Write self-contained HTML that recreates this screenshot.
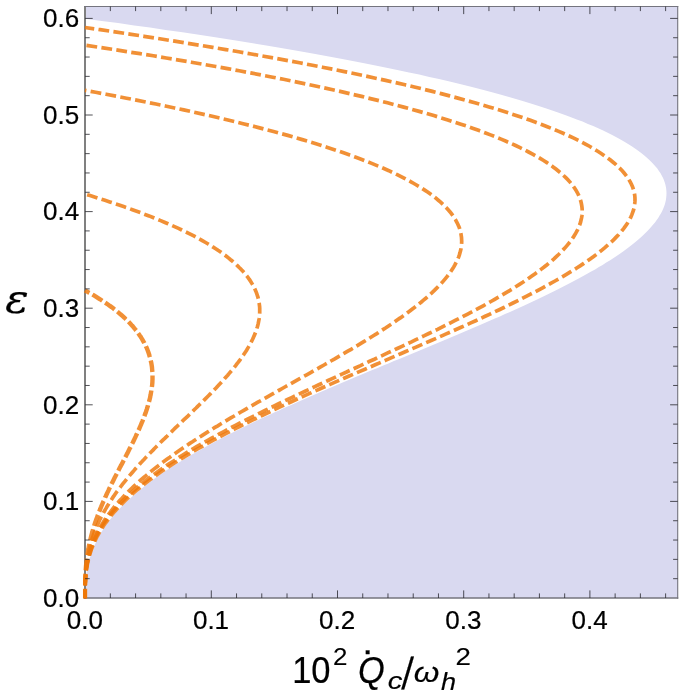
<!DOCTYPE html>
<html lang="en"><head><meta charset="utf-8"><title>Cooling power versus epsilon</title>
<style>
html,body{margin:0;padding:0;background:#fff}
svg{display:block}
text{font-family:"Liberation Sans",sans-serif;fill:#000}
.tl{font-size:26px;stroke:#000;stroke-width:0.22px}
.lb{stroke:#000;stroke-width:0.6px}
</style></head><body>
<svg width="685" height="698" viewBox="0 0 685 698">
<rect width="685" height="698" fill="#fff"/>
<defs><clipPath id="cp"><rect x="82.9" y="6.5" width="594.8" height="592.1"/></clipPath></defs>
<!-- shaded region -->
<rect x="85.1" y="6.5" width="592.6" height="591.5" fill="#d9d9f0"/>
<g clip-path="url(#cp)">
<path d="M85.0,598.4 L85.0,596.2 L85.0,593.9 L85.1,591.7 L85.1,589.4 L85.2,587.2 L85.4,585.0 L85.5,582.7 L85.7,580.5 L85.9,578.3 L86.2,576.0 L86.5,573.8 L86.8,571.5 L87.2,569.3 L87.6,567.1 L88.1,564.8 L88.6,562.6 L89.2,560.3 L89.8,558.1 L90.5,555.9 L91.3,553.6 L92.0,551.4 L92.9,549.2 L93.8,546.9 L94.8,544.7 L95.8,542.4 L96.9,540.2 L98.1,538.0 L99.3,535.7 L100.6,533.5 L102.0,531.2 L103.4,529.0 L104.9,526.8 L106.5,524.5 L108.1,522.3 L109.8,520.1 L111.6,517.8 L113.4,515.6 L115.4,513.3 L117.4,511.1 L119.4,508.9 L121.6,506.6 L123.8,504.4 L126.1,502.2 L128.5,499.9 L130.9,497.7 L133.4,495.4 L136.0,493.2 L138.7,491.0 L141.4,488.7 L144.2,486.5 L147.1,484.2 L150.0,482.0 L153.0,479.8 L156.1,477.5 L159.3,475.3 L162.6,473.1 L165.9,470.8 L169.2,468.6 L172.7,466.3 L176.2,464.1 L179.8,461.9 L183.5,459.6 L187.2,457.4 L191.0,455.1 L194.8,452.9 L198.7,450.7 L202.7,448.4 L206.7,446.2 L210.9,444.0 L215.0,441.7 L219.2,439.5 L223.5,437.2 L227.9,435.0 L232.2,432.8 L236.7,430.5 L241.2,428.3 L245.8,426.0 L250.4,423.8 L255.0,421.6 L259.7,419.3 L264.5,417.1 L269.3,414.9 L274.1,412.6 L279.0,410.4 L283.9,408.1 L288.9,405.9 L293.9,403.7 L298.9,401.4 L304.0,399.2 L309.1,396.9 L314.2,394.7 L319.4,392.5 L324.6,390.2 L329.8,388.0 L335.0,385.8 L340.3,383.5 L345.6,381.3 L350.9,379.0 L356.2,376.8 L361.6,374.6 L366.9,372.3 L372.3,370.1 L377.7,367.9 L383.1,365.6 L388.5,363.4 L393.9,361.1 L399.3,358.9 L404.7,356.7 L410.1,354.4 L415.5,352.2 L420.9,349.9 L426.3,347.7 L431.6,345.5 L437.0,343.2 L442.4,341.0 L447.7,338.8 L453.0,336.5 L458.4,334.3 L463.6,332.0 L468.9,329.8 L474.1,327.6 L479.4,325.3 L484.6,323.1 L489.7,320.8 L494.8,318.6 L499.9,316.4 L505.0,314.1 L510.0,311.9 L514.9,309.7 L519.9,307.4 L524.8,305.2 L529.6,302.9 L534.4,300.7 L539.1,298.5 L543.8,296.2 L548.4,294.0 L553.0,291.7 L557.5,289.5 L561.9,287.3 L566.3,285.0 L570.6,282.8 L574.9,280.6 L579.1,278.3 L583.2,276.1 L587.2,273.8 L591.2,271.6 L595.1,269.4 L598.9,267.1 L602.6,264.9 L606.2,262.6 L609.8,260.4 L613.2,258.2 L616.6,255.9 L619.9,253.7 L623.1,251.5 L626.1,249.2 L629.1,247.0 L632.0,244.7 L634.8,242.5 L637.5,240.3 L640.1,238.0 L642.6,235.8 L644.9,233.5 L647.2,231.3 L649.3,229.1 L651.3,226.8 L653.2,224.6 L655.0,222.4 L656.7,220.1 L658.2,217.9 L659.6,215.6 L660.9,213.4 L662.1,211.2 L663.1,208.9 L664.0,206.7 L664.8,204.5 L665.4,202.2 L665.9,200.0 L666.2,197.7 L666.4,195.5 L666.5,193.3 L666.4,191.0 L666.2,188.8 L665.8,186.5 L665.3,184.3 L664.6,182.1 L663.8,179.8 L662.8,177.6 L661.7,175.4 L660.4,173.1 L658.9,170.9 L657.3,168.6 L655.5,166.4 L653.5,164.2 L651.4,161.9 L649.1,159.7 L646.6,157.4 L644.0,155.2 L641.2,153.0 L638.2,150.7 L635.0,148.5 L631.7,146.3 L628.1,144.0 L624.4,141.8 L620.5,139.5 L616.4,137.3 L612.2,135.1 L607.7,132.8 L603.1,130.6 L598.2,128.3 L593.2,126.1 L587.9,123.9 L582.5,121.6 L576.8,119.4 L571.0,117.2 L565.0,114.9 L558.7,112.7 L552.2,110.4 L545.6,108.2 L538.7,106.0 L531.6,103.7 L524.3,101.5 L516.8,99.2 L509.0,97.0 L501.1,94.8 L492.9,92.5 L484.5,90.3 L475.9,88.1 L467.0,85.8 L457.9,83.6 L448.6,81.3 L439.0,79.1 L429.3,76.9 L419.2,74.6 L409.0,72.4 L398.5,70.2 L387.7,67.9 L376.7,65.7 L365.5,63.4 L354.0,61.2 L342.2,59.0 L330.2,56.7 L318.0,54.5 L305.5,52.2 L292.7,50.0 L279.6,47.8 L266.3,45.5 L252.8,43.3 L238.9,41.1 L224.8,38.8 L210.4,36.6 L195.7,34.3 L180.8,32.1 L165.5,29.9 L150.0,27.6 L134.2,25.4 L118.1,23.1 L101.7,20.9 L85.0,18.7 Z" fill="#fff"/></g>
<g stroke="#74747e" fill="none"><path d="M85,5.9V598.65" stroke-width="2" stroke="#808080"/><path d="M84.19999999999999,6.5H678.25" stroke-width="1.2"/><path d="M677.7,5.9V598.65" stroke-width="1.1"/><path d="M84.19999999999999,598.0H678.25" stroke-width="1.3"/></g>
<g clip-path="url(#cp)">
<!-- dashed curves -->
<g fill="none" stroke="#ee780a" stroke-width="3.7" stroke-opacity="0.82" stroke-dasharray="10.8 4.3" stroke-dashoffset="2">
<path d="M85.0,598.4 L85.0,596.2 L85.0,594.0 L85.0,591.8 L85.0,589.6 L85.1,587.4 L85.2,585.2 L85.2,583.0 L85.4,580.8 L85.5,578.6 L85.7,576.4 L85.9,574.2 L86.1,572.0 L86.4,569.7 L86.8,567.5 L87.2,565.3 L87.6,563.1 L88.1,560.9 L88.6,558.7 L89.2,556.5 L89.8,554.3 L90.5,552.1 L91.2,549.9 L92.1,547.7 L92.9,545.5 L93.9,543.3 L94.9,541.1 L95.9,538.9 L97.0,536.7 L98.2,534.5 L99.5,532.3 L100.8,530.1 L102.2,527.9 L103.6,525.7 L105.2,523.5 L106.8,521.3 L108.4,519.1 L110.2,516.8 L112.0,514.6 L113.9,512.4 L115.8,510.2 L117.8,508.0 L119.9,505.8 L122.1,503.6 L124.3,501.4 L126.6,499.2 L129.0,497.0 L131.4,494.8 L133.9,492.6 L136.5,490.4 L139.2,488.2 L141.9,486.0 L144.7,483.8 L147.6,481.6 L150.5,479.4 L153.5,477.2 L156.6,475.0 L159.7,472.8 L162.9,470.6 L166.2,468.4 L169.5,466.2 L172.9,463.9 L176.4,461.7 L179.9,459.5 L183.5,457.3 L187.1,455.1 L190.8,452.9 L194.6,450.7 L198.4,448.5 L202.3,446.3 L206.2,444.1 L210.2,441.9 L214.3,439.7 L218.4,437.5 L222.5,435.3 L226.7,433.1 L231.0,430.9 L235.3,428.7 L239.6,426.5 L244.0,424.3 L248.5,422.1 L252.9,419.9 L257.5,417.7 L262.0,415.5 L266.7,413.3 L271.3,411.0 L276.0,408.8 L280.7,406.6 L285.5,404.4 L290.2,402.2 L295.1,400.0 L299.9,397.8 L304.8,395.6 L309.7,393.4 L314.6,391.2 L319.6,389.0 L324.6,386.8 L329.5,384.6 L334.6,382.4 L339.6,380.2 L344.6,378.0 L349.7,375.8 L354.8,373.6 L359.9,371.4 L365.0,369.2 L370.1,367.0 L375.2,364.8 L380.3,362.6 L385.4,360.4 L390.5,358.1 L395.6,355.9 L400.7,353.7 L405.8,351.5 L410.9,349.3 L416.0,347.1 L421.1,344.9 L426.1,342.7 L431.2,340.5 L436.2,338.3 L441.2,336.1 L446.2,333.9 L451.2,331.7 L456.1,329.5 L461.1,327.3 L466.0,325.1 L470.8,322.9 L475.7,320.7 L480.5,318.5 L485.2,316.3 L490.0,314.1 L494.6,311.9 L499.3,309.7 L503.9,307.5 L508.5,305.2 L513.0,303.0 L517.4,300.8 L521.8,298.6 L526.2,296.4 L530.5,294.2 L534.7,292.0 L538.9,289.8 L543.1,287.6 L547.1,285.4 L551.1,283.2 L555.0,281.0 L558.9,278.8 L562.7,276.6 L566.4,274.4 L570.0,272.2 L573.6,270.0 L577.1,267.8 L580.5,265.6 L583.8,263.4 L587.0,261.2 L590.2,259.0 L593.3,256.8 L596.2,254.6 L599.1,252.3 L601.9,250.1 L604.6,247.9 L607.1,245.7 L609.6,243.5 L612.0,241.3 L614.3,239.1 L616.4,236.9 L618.5,234.7 L620.4,232.5 L622.3,230.3 L624.0,228.1 L625.6,225.9 L627.1,223.7 L628.4,221.5 L629.7,219.3 L630.8,217.1 L631.8,214.9 L632.6,212.7 L633.4,210.5 L634.0,208.3 L634.4,206.1 L634.7,203.9 L634.9,201.7 L635.0,199.4 L634.9,197.2 L634.7,195.0 L634.3,192.8 L633.8,190.6 L633.1,188.4 L632.3,186.2 L631.3,184.0 L630.2,181.8 L628.9,179.6 L627.4,177.4 L625.8,175.2 L624.1,173.0 L622.2,170.8 L620.1,168.6 L617.8,166.4 L615.4,164.2 L612.8,162.0 L610.1,159.8 L607.1,157.6 L604.0,155.4 L600.8,153.2 L597.3,151.0 L593.7,148.8 L589.9,146.5 L585.9,144.3 L581.7,142.1 L577.4,139.9 L572.8,137.7 L568.1,135.5 L563.2,133.3 L558.1,131.1 L552.8,128.9 L547.3,126.7 L541.6,124.5 L535.7,122.3 L529.7,120.1 L523.4,117.9 L516.9,115.7 L510.3,113.5 L503.4,111.3 L496.3,109.1 L489.1,106.9 L481.6,104.7 L473.9,102.5 L466.0,100.3 L457.9,98.1 L449.6,95.9 L441.1,93.6 L432.4,91.4 L423.5,89.2 L414.3,87.0 L405.0,84.8 L395.4,82.6 L385.6,80.4 L375.6,78.2 L365.4,76.0 L355.0,73.8 L344.4,71.6 L333.5,69.4 L322.4,67.2 L311.1,65.0 L299.6,62.8 L287.9,60.6 L275.9,58.4 L263.7,56.2 L251.3,54.0 L238.7,51.8 L225.8,49.6 L212.7,47.4 L199.5,45.2 L185.9,43.0 L172.2,40.8 L158.2,38.5 L144.0,36.3 L129.6,34.1 L115.0,31.9 L100.1,29.7 L85.0,27.5"/>
<path d="M85.0,598.4 L85.0,596.3 L85.0,594.1 L85.0,592.0 L85.0,589.9 L85.1,587.7 L85.1,585.6 L85.2,583.4 L85.3,581.3 L85.4,579.2 L85.5,577.0 L85.7,574.9 L85.9,572.8 L86.2,570.6 L86.4,568.5 L86.7,566.4 L87.1,564.2 L87.5,562.1 L87.9,560.0 L88.4,557.8 L89.0,555.7 L89.6,553.5 L90.2,551.4 L90.9,549.3 L91.6,547.1 L92.4,545.0 L93.3,542.9 L94.2,540.7 L95.1,538.6 L96.2,536.5 L97.3,534.3 L98.4,532.2 L99.6,530.0 L100.9,527.9 L102.2,525.8 L103.6,523.6 L105.1,521.5 L106.6,519.4 L108.2,517.2 L109.9,515.1 L111.6,513.0 L113.4,510.8 L115.2,508.7 L117.2,506.5 L119.1,504.4 L121.2,502.3 L123.3,500.1 L125.5,498.0 L127.7,495.9 L130.1,493.7 L132.4,491.6 L134.9,489.5 L137.4,487.3 L140.0,485.2 L142.6,483.1 L145.3,480.9 L148.1,478.8 L150.9,476.6 L153.8,474.5 L156.7,472.4 L159.7,470.2 L162.8,468.1 L165.9,466.0 L169.1,463.8 L172.4,461.7 L175.7,459.6 L179.0,457.4 L182.4,455.3 L185.9,453.1 L189.4,451.0 L193.0,448.9 L196.6,446.7 L200.3,444.6 L204.0,442.5 L207.8,440.3 L211.6,438.2 L215.5,436.1 L219.4,433.9 L223.4,431.8 L227.4,429.6 L231.4,427.5 L235.5,425.4 L239.6,423.2 L243.7,421.1 L247.9,419.0 L252.2,416.8 L256.4,414.7 L260.7,412.6 L265.0,410.4 L269.4,408.3 L273.8,406.2 L278.2,404.0 L282.6,401.9 L287.1,399.7 L291.6,397.6 L296.1,395.5 L300.6,393.3 L305.1,391.2 L309.7,389.1 L314.3,386.9 L318.8,384.8 L323.4,382.7 L328.1,380.5 L332.7,378.4 L337.3,376.2 L341.9,374.1 L346.6,372.0 L351.2,369.8 L355.8,367.7 L360.5,365.6 L365.1,363.4 L369.7,361.3 L374.4,359.2 L379.0,357.0 L383.6,354.9 L388.2,352.7 L392.8,350.6 L397.3,348.5 L401.9,346.3 L406.4,344.2 L411.0,342.1 L415.4,339.9 L419.9,337.8 L424.4,335.7 L428.8,333.5 L433.2,331.4 L437.6,329.3 L441.9,327.1 L446.2,325.0 L450.5,322.8 L454.7,320.7 L458.9,318.6 L463.1,316.4 L467.2,314.3 L471.3,312.2 L475.3,310.0 L479.3,307.9 L483.2,305.8 L487.1,303.6 L490.9,301.5 L494.7,299.3 L498.4,297.2 L502.1,295.1 L505.7,292.9 L509.2,290.8 L512.7,288.7 L516.1,286.5 L519.5,284.4 L522.8,282.3 L526.0,280.1 L529.1,278.0 L532.2,275.8 L535.2,273.7 L538.1,271.6 L541.0,269.4 L543.8,267.3 L546.4,265.2 L549.0,263.0 L551.6,260.9 L554.0,258.8 L556.3,256.6 L558.6,254.5 L560.8,252.4 L562.8,250.2 L564.8,248.1 L566.7,245.9 L568.4,243.8 L570.1,241.7 L571.7,239.5 L573.2,237.4 L574.5,235.3 L575.8,233.1 L577.0,231.0 L578.0,228.9 L578.9,226.7 L579.8,224.6 L580.5,222.4 L581.0,220.3 L581.5,218.2 L581.9,216.0 L582.1,213.9 L582.2,211.8 L582.2,209.6 L582.0,207.5 L581.7,205.4 L581.3,203.2 L580.8,201.1 L580.1,198.9 L579.3,196.8 L578.4,194.7 L577.3,192.5 L576.1,190.4 L574.7,188.3 L573.2,186.1 L571.6,184.0 L569.8,181.9 L567.9,179.7 L565.8,177.6 L563.5,175.5 L561.2,173.3 L558.6,171.2 L555.9,169.0 L553.1,166.9 L550.1,164.8 L546.9,162.6 L543.6,160.5 L540.1,158.4 L536.4,156.2 L532.6,154.1 L528.6,152.0 L524.4,149.8 L520.1,147.7 L515.6,145.5 L510.9,143.4 L506.1,141.3 L501.1,139.1 L495.9,137.0 L490.5,134.9 L484.9,132.7 L479.2,130.6 L473.3,128.5 L467.2,126.3 L460.9,124.2 L454.4,122.1 L447.8,119.9 L440.9,117.8 L433.8,115.6 L426.6,113.5 L419.2,111.4 L411.5,109.2 L403.7,107.1 L395.7,105.0 L387.5,102.8 L379.0,100.7 L370.4,98.6 L361.6,96.4 L352.5,94.3 L343.3,92.1 L333.8,90.0 L324.2,87.9 L314.3,85.7 L304.2,83.6 L293.9,81.5 L283.4,79.3 L272.7,77.2 L261.7,75.1 L250.6,72.9 L239.2,70.8 L227.6,68.6 L215.8,66.5 L203.7,64.4 L191.4,62.2 L178.9,60.1 L166.2,58.0 L153.3,55.8 L140.1,53.7 L126.7,51.6 L113.0,49.4 L99.1,47.3 L85.0,45.2"/>
<path d="M85.0,598.4 L85.0,596.4 L85.0,594.5 L85.0,592.5 L85.0,590.6 L85.1,588.6 L85.1,586.6 L85.1,584.7 L85.2,582.7 L85.3,580.7 L85.4,578.8 L85.5,576.8 L85.7,574.9 L85.9,572.9 L86.1,570.9 L86.3,569.0 L86.6,567.0 L86.9,565.1 L87.2,563.1 L87.6,561.1 L88.0,559.2 L88.4,557.2 L88.9,555.2 L89.4,553.3 L90.0,551.3 L90.6,549.4 L91.2,547.4 L91.9,545.4 L92.6,543.5 L93.4,541.5 L94.2,539.5 L95.0,537.6 L95.9,535.6 L96.8,533.7 L97.8,531.7 L98.9,529.7 L99.9,527.8 L101.1,525.8 L102.2,523.9 L103.4,521.9 L104.7,519.9 L106.0,518.0 L107.4,516.0 L108.8,514.0 L110.3,512.1 L111.8,510.1 L113.3,508.2 L114.9,506.2 L116.6,504.2 L118.3,502.3 L120.0,500.3 L121.8,498.4 L123.6,496.4 L125.5,494.4 L127.5,492.5 L129.4,490.5 L131.5,488.5 L133.5,486.6 L135.7,484.6 L137.8,482.7 L140.0,480.7 L142.3,478.7 L144.6,476.8 L146.9,474.8 L149.3,472.9 L151.7,470.9 L154.2,468.9 L156.7,467.0 L159.3,465.0 L161.9,463.0 L164.5,461.1 L167.2,459.1 L169.9,457.2 L172.6,455.2 L175.4,453.2 L178.2,451.3 L181.1,449.3 L184.0,447.3 L186.9,445.4 L189.8,443.4 L192.8,441.5 L195.8,439.5 L198.9,437.5 L202.0,435.6 L205.1,433.6 L208.2,431.7 L211.4,429.7 L214.5,427.7 L217.8,425.8 L221.0,423.8 L224.3,421.8 L227.5,419.9 L230.8,417.9 L234.2,416.0 L237.5,414.0 L240.9,412.0 L244.2,410.1 L247.6,408.1 L251.0,406.2 L254.5,404.2 L257.9,402.2 L261.4,400.3 L264.8,398.3 L268.3,396.3 L271.7,394.4 L275.2,392.4 L278.7,390.5 L282.2,388.5 L285.7,386.5 L289.2,384.6 L292.7,382.6 L296.2,380.6 L299.7,378.7 L303.2,376.7 L306.7,374.8 L310.2,372.8 L313.6,370.8 L317.1,368.9 L320.6,366.9 L324.0,365.0 L327.5,363.0 L330.9,361.0 L334.3,359.1 L337.7,357.1 L341.1,355.1 L344.4,353.2 L347.8,351.2 L351.1,349.3 L354.4,347.3 L357.7,345.3 L360.9,343.4 L364.2,341.4 L367.4,339.5 L370.5,337.5 L373.7,335.5 L376.8,333.6 L379.9,331.6 L382.9,329.6 L385.9,327.7 L388.9,325.7 L391.8,323.8 L394.7,321.8 L397.5,319.8 L400.3,317.9 L403.1,315.9 L405.8,314.0 L408.5,312.0 L411.1,310.0 L413.7,308.1 L416.2,306.1 L418.7,304.1 L421.1,302.2 L423.5,300.2 L425.8,298.3 L428.0,296.3 L430.2,294.3 L432.3,292.4 L434.4,290.4 L436.4,288.4 L438.3,286.5 L440.2,284.5 L442.0,282.6 L443.7,280.6 L445.4,278.6 L447.0,276.7 L448.5,274.7 L449.9,272.8 L451.3,270.8 L452.6,268.8 L453.8,266.9 L454.9,264.9 L455.9,262.9 L456.9,261.0 L457.8,259.0 L458.6,257.1 L459.3,255.1 L459.9,253.1 L460.4,251.2 L460.9,249.2 L461.2,247.3 L461.5,245.3 L461.6,243.3 L461.7,241.4 L461.6,239.4 L461.5,237.4 L461.2,235.5 L460.9,233.5 L460.5,231.6 L459.9,229.6 L459.3,227.6 L458.5,225.7 L457.6,223.7 L456.6,221.8 L455.6,219.8 L454.3,217.8 L453.0,215.9 L451.6,213.9 L450.1,211.9 L448.4,210.0 L446.6,208.0 L444.7,206.1 L442.7,204.1 L440.6,202.1 L438.3,200.2 L435.9,198.2 L433.4,196.2 L430.8,194.3 L428.0,192.3 L425.1,190.4 L422.1,188.4 L418.9,186.4 L415.6,184.5 L412.2,182.5 L408.7,180.6 L405.0,178.6 L401.1,176.6 L397.2,174.7 L393.1,172.7 L388.9,170.7 L384.5,168.8 L380.0,166.8 L375.3,164.9 L370.5,162.9 L365.5,160.9 L360.5,159.0 L355.2,157.0 L349.8,155.1 L344.3,153.1 L338.6,151.1 L332.8,149.2 L326.8,147.2 L320.7,145.2 L314.4,143.3 L308.0,141.3 L301.4,139.4 L294.7,137.4 L287.8,135.4 L280.7,133.5 L273.5,131.5 L266.1,129.6 L258.6,127.6 L250.9,125.6 L243.1,123.7 L235.1,121.7 L226.9,119.7 L218.6,117.8 L210.1,115.8 L201.5,113.9 L192.7,111.9 L183.7,109.9 L174.6,108.0 L165.3,106.0 L155.9,104.0 L146.2,102.1 L136.4,100.1 L126.5,98.2 L116.4,96.2 L106.1,94.2 L95.6,92.3 L85.0,90.3"/>
<path d="M85.0,598.4 L85.0,596.8 L85.0,595.3 L85.0,593.7 L85.0,592.2 L85.0,590.6 L85.0,589.0 L85.1,587.5 L85.1,585.9 L85.1,584.4 L85.2,582.8 L85.2,581.2 L85.3,579.7 L85.3,578.1 L85.4,576.5 L85.5,575.0 L85.6,573.4 L85.7,571.9 L85.9,570.3 L86.0,568.7 L86.2,567.2 L86.4,565.6 L86.6,564.1 L86.8,562.5 L87.0,560.9 L87.2,559.4 L87.5,557.8 L87.8,556.3 L88.1,554.7 L88.4,553.1 L88.7,551.6 L89.1,550.0 L89.4,548.4 L89.8,546.9 L90.2,545.3 L90.6,543.8 L91.1,542.2 L91.6,540.6 L92.0,539.1 L92.6,537.5 L93.1,536.0 L93.6,534.4 L94.2,532.8 L94.8,531.3 L95.4,529.7 L96.1,528.2 L96.7,526.6 L97.4,525.0 L98.1,523.5 L98.8,521.9 L99.6,520.3 L100.3,518.8 L101.1,517.2 L101.9,515.7 L102.7,514.1 L103.6,512.5 L104.5,511.0 L105.4,509.4 L106.3,507.9 L107.2,506.3 L108.2,504.7 L109.1,503.2 L110.1,501.6 L111.2,500.1 L112.2,498.5 L113.2,496.9 L114.3,495.4 L115.4,493.8 L116.5,492.2 L117.7,490.7 L118.8,489.1 L120.0,487.6 L121.2,486.0 L122.4,484.4 L123.6,482.9 L124.9,481.3 L126.1,479.8 L127.4,478.2 L128.7,476.6 L130.0,475.1 L131.4,473.5 L132.7,472.0 L134.1,470.4 L135.4,468.8 L136.8,467.3 L138.2,465.7 L139.6,464.1 L141.1,462.6 L142.5,461.0 L144.0,459.5 L145.4,457.9 L146.9,456.3 L148.4,454.8 L149.9,453.2 L151.4,451.7 L153.0,450.1 L154.5,448.5 L156.0,447.0 L157.6,445.4 L159.2,443.9 L160.7,442.3 L162.3,440.7 L163.9,439.2 L165.5,437.6 L167.1,436.1 L168.7,434.5 L170.3,432.9 L171.9,431.4 L173.5,429.8 L175.1,428.2 L176.7,426.7 L178.3,425.1 L180.0,423.6 L181.6,422.0 L183.2,420.4 L184.8,418.9 L186.5,417.3 L188.1,415.8 L189.7,414.2 L191.3,412.6 L192.9,411.1 L194.5,409.5 L196.1,408.0 L197.7,406.4 L199.3,404.8 L200.9,403.3 L202.5,401.7 L204.1,400.1 L205.6,398.6 L207.2,397.0 L208.7,395.5 L210.3,393.9 L211.8,392.3 L213.3,390.8 L214.8,389.2 L216.3,387.7 L217.8,386.1 L219.2,384.5 L220.7,383.0 L222.1,381.4 L223.5,379.9 L224.9,378.3 L226.3,376.7 L227.7,375.2 L229.0,373.6 L230.4,372.0 L231.7,370.5 L233.0,368.9 L234.2,367.4 L235.5,365.8 L236.7,364.2 L237.9,362.7 L239.1,361.1 L240.2,359.6 L241.3,358.0 L242.4,356.4 L243.5,354.9 L244.6,353.3 L245.6,351.8 L246.6,350.2 L247.5,348.6 L248.4,347.1 L249.3,345.5 L250.2,343.9 L251.0,342.4 L251.8,340.8 L252.6,339.3 L253.3,337.7 L254.0,336.1 L254.7,334.6 L255.3,333.0 L255.9,331.5 L256.4,329.9 L256.9,328.3 L257.4,326.8 L257.8,325.2 L258.2,323.7 L258.5,322.1 L258.8,320.5 L259.1,319.0 L259.3,317.4 L259.5,315.8 L259.6,314.3 L259.7,312.7 L259.7,311.2 L259.7,309.6 L259.7,308.0 L259.6,306.5 L259.4,304.9 L259.2,303.4 L258.9,301.8 L258.6,300.2 L258.3,298.7 L257.9,297.1 L257.4,295.6 L256.9,294.0 L256.3,292.4 L255.7,290.9 L255.0,289.3 L254.3,287.8 L253.5,286.2 L252.6,284.6 L251.7,283.1 L250.7,281.5 L249.7,279.9 L248.6,278.4 L247.5,276.8 L246.2,275.3 L245.0,273.7 L243.6,272.1 L242.2,270.6 L240.8,269.0 L239.2,267.5 L237.6,265.9 L236.0,264.3 L234.3,262.8 L232.5,261.2 L230.6,259.7 L228.7,258.1 L226.7,256.5 L224.6,255.0 L222.5,253.4 L220.3,251.8 L218.0,250.3 L215.7,248.7 L213.2,247.2 L210.8,245.6 L208.2,244.0 L205.6,242.5 L202.8,240.9 L200.1,239.4 L197.2,237.8 L194.3,236.2 L191.3,234.7 L188.2,233.1 L185.0,231.6 L181.8,230.0 L178.5,228.4 L175.1,226.9 L171.6,225.3 L168.0,223.7 L164.4,222.2 L160.7,220.6 L156.9,219.1 L153.0,217.5 L149.1,215.9 L145.0,214.4 L140.9,212.8 L136.7,211.3 L132.4,209.7 L128.1,208.1 L123.6,206.6 L119.1,205.0 L114.5,203.5 L109.8,201.9 L105.0,200.3 L100.1,198.8 L95.2,197.2 L90.1,195.6 L85.0,194.1"/>
<path d="M85.0,598.4 L85.0,597.2 L85.0,596.0 L85.0,594.8 L85.0,593.6 L85.0,592.5 L85.0,591.3 L85.0,590.1 L85.0,588.9 L85.0,587.7 L85.1,586.5 L85.1,585.3 L85.1,584.1 L85.1,582.9 L85.2,581.8 L85.2,580.6 L85.2,579.4 L85.3,578.2 L85.3,577.0 L85.4,575.8 L85.4,574.6 L85.5,573.4 L85.6,572.2 L85.7,571.1 L85.7,569.9 L85.8,568.7 L85.9,567.5 L86.0,566.3 L86.1,565.1 L86.3,563.9 L86.4,562.7 L86.5,561.5 L86.7,560.4 L86.8,559.2 L87.0,558.0 L87.1,556.8 L87.3,555.6 L87.5,554.4 L87.6,553.2 L87.8,552.0 L88.0,550.8 L88.2,549.7 L88.5,548.5 L88.7,547.3 L88.9,546.1 L89.2,544.9 L89.4,543.7 L89.7,542.5 L89.9,541.3 L90.2,540.1 L90.5,539.0 L90.8,537.8 L91.1,536.6 L91.4,535.4 L91.7,534.2 L92.0,533.0 L92.4,531.8 L92.7,530.6 L93.1,529.4 L93.4,528.3 L93.8,527.1 L94.1,525.9 L94.5,524.7 L94.9,523.5 L95.3,522.3 L95.7,521.1 L96.1,519.9 L96.5,518.7 L97.0,517.6 L97.4,516.4 L97.8,515.2 L98.3,514.0 L98.7,512.8 L99.2,511.6 L99.7,510.4 L100.2,509.2 L100.6,508.0 L101.1,506.9 L101.6,505.7 L102.1,504.5 L102.6,503.3 L103.1,502.1 L103.7,500.9 L104.2,499.7 L104.7,498.5 L105.2,497.3 L105.8,496.2 L106.3,495.0 L106.9,493.8 L107.4,492.6 L108.0,491.4 L108.6,490.2 L109.1,489.0 L109.7,487.8 L110.3,486.6 L110.9,485.5 L111.4,484.3 L112.0,483.1 L112.6,481.9 L113.2,480.7 L113.8,479.5 L114.4,478.3 L115.0,477.1 L115.6,475.9 L116.2,474.8 L116.8,473.6 L117.5,472.4 L118.1,471.2 L118.7,470.0 L119.3,468.8 L119.9,467.6 L120.5,466.4 L121.1,465.2 L121.8,464.1 L122.4,462.9 L123.0,461.7 L123.6,460.5 L124.2,459.3 L124.8,458.1 L125.5,456.9 L126.1,455.7 L126.7,454.5 L127.3,453.4 L127.9,452.2 L128.5,451.0 L129.1,449.8 L129.7,448.6 L130.3,447.4 L130.9,446.2 L131.5,445.0 L132.1,443.8 L132.7,442.7 L133.3,441.5 L133.9,440.3 L134.4,439.1 L135.0,437.9 L135.6,436.7 L136.1,435.5 L136.7,434.3 L137.2,433.1 L137.8,432.0 L138.3,430.8 L138.9,429.6 L139.4,428.4 L139.9,427.2 L140.4,426.0 L140.9,424.8 L141.4,423.6 L141.9,422.4 L142.4,421.3 L142.9,420.1 L143.3,418.9 L143.8,417.7 L144.3,416.5 L144.7,415.3 L145.1,414.1 L145.6,412.9 L146.0,411.7 L146.4,410.6 L146.8,409.4 L147.1,408.2 L147.5,407.0 L147.9,405.8 L148.2,404.6 L148.6,403.4 L148.9,402.2 L149.2,401.0 L149.5,399.9 L149.8,398.7 L150.1,397.5 L150.3,396.3 L150.6,395.1 L150.8,393.9 L151.0,392.7 L151.2,391.5 L151.4,390.3 L151.6,389.2 L151.8,388.0 L151.9,386.8 L152.1,385.6 L152.2,384.4 L152.3,383.2 L152.4,382.0 L152.4,380.8 L152.5,379.6 L152.5,378.5 L152.5,377.3 L152.5,376.1 L152.5,374.9 L152.5,373.7 L152.4,372.5 L152.3,371.3 L152.2,370.1 L152.1,368.9 L152.0,367.8 L151.9,366.6 L151.7,365.4 L151.5,364.2 L151.3,363.0 L151.0,361.8 L150.8,360.6 L150.5,359.4 L150.2,358.2 L149.9,357.1 L149.5,355.9 L149.2,354.7 L148.8,353.5 L148.4,352.3 L147.9,351.1 L147.5,349.9 L147.0,348.7 L146.5,347.5 L145.9,346.4 L145.4,345.2 L144.8,344.0 L144.2,342.8 L143.5,341.6 L142.8,340.4 L142.1,339.2 L141.4,338.0 L140.7,336.8 L139.9,335.7 L139.1,334.5 L138.2,333.3 L137.4,332.1 L136.5,330.9 L135.5,329.7 L134.6,328.5 L133.6,327.3 L132.6,326.1 L131.5,325.0 L130.4,323.8 L129.3,322.6 L128.2,321.4 L127.0,320.2 L125.7,319.0 L124.5,317.8 L123.2,316.6 L121.9,315.4 L120.5,314.3 L119.1,313.1 L117.7,311.9 L116.2,310.7 L114.7,309.5 L113.2,308.3 L111.6,307.1 L109.9,305.9 L108.3,304.7 L106.6,303.6 L104.8,302.4 L103.0,301.2 L101.2,300.0 L99.3,298.8 L97.4,297.6 L95.5,296.4 L93.5,295.2 L91.4,294.0 L89.3,292.9 L87.2,291.7 L85.0,290.5" stroke-width="4.4" stroke-dasharray="11.6 3.5"/>
</g></g>
<path d="M110.34,598.0v-4.6M110.34,6.5v4.6M135.58,598.0v-4.6M135.58,6.5v4.6M160.82,598.0v-4.6M160.82,6.5v4.6M186.06,598.0v-4.6M186.06,6.5v4.6M211.30,598.0v-7.6M211.30,6.5v7.6M236.54,598.0v-4.6M236.54,6.5v4.6M261.78,598.0v-4.6M261.78,6.5v4.6M287.02,598.0v-4.6M287.02,6.5v4.6M312.26,598.0v-4.6M312.26,6.5v4.6M337.50,598.0v-7.6M337.50,6.5v7.6M362.74,598.0v-4.6M362.74,6.5v4.6M387.98,598.0v-4.6M387.98,6.5v4.6M413.22,598.0v-4.6M413.22,6.5v4.6M438.46,598.0v-4.6M438.46,6.5v4.6M463.70,598.0v-7.6M463.70,6.5v7.6M488.94,598.0v-4.6M488.94,6.5v4.6M514.18,598.0v-4.6M514.18,6.5v4.6M539.42,598.0v-4.6M539.42,6.5v4.6M564.66,598.0v-4.6M564.66,6.5v4.6M589.90,598.0v-7.6M589.90,6.5v7.6M615.14,598.0v-4.6M615.14,6.5v4.6M640.38,598.0v-4.6M640.38,6.5v4.6M665.62,598.0v-4.6M665.62,6.5v4.6M85.1,578.68h4.6M677.7,578.68h-4.6M85.1,559.36h4.6M677.7,559.36h-4.6M85.1,540.04h4.6M677.7,540.04h-4.6M85.1,520.72h4.6M677.7,520.72h-4.6M85.1,501.40h7.6M677.7,501.40h-7.6M85.1,482.08h4.6M677.7,482.08h-4.6M85.1,462.76h4.6M677.7,462.76h-4.6M85.1,443.44h4.6M677.7,443.44h-4.6M85.1,424.12h4.6M677.7,424.12h-4.6M85.1,404.80h7.6M677.7,404.80h-7.6M85.1,385.48h4.6M677.7,385.48h-4.6M85.1,366.16h4.6M677.7,366.16h-4.6M85.1,346.84h4.6M677.7,346.84h-4.6M85.1,327.52h4.6M677.7,327.52h-4.6M85.1,308.20h7.6M677.7,308.20h-7.6M85.1,288.88h4.6M677.7,288.88h-4.6M85.1,269.56h4.6M677.7,269.56h-4.6M85.1,250.24h4.6M677.7,250.24h-4.6M85.1,230.92h4.6M677.7,230.92h-4.6M85.1,211.60h7.6M677.7,211.60h-7.6M85.1,192.28h4.6M677.7,192.28h-4.6M85.1,172.96h4.6M677.7,172.96h-4.6M85.1,153.64h4.6M677.7,153.64h-4.6M85.1,134.32h4.6M677.7,134.32h-4.6M85.1,115.00h7.6M677.7,115.00h-7.6M85.1,95.68h4.6M677.7,95.68h-4.6M85.1,76.36h4.6M677.7,76.36h-4.6M85.1,57.04h4.6M677.7,57.04h-4.6M85.1,37.72h4.6M677.7,37.72h-4.6M85.1,18.40h7.6M677.7,18.40h-7.6" stroke="#26262c" stroke-width="0.8" fill="none"/>
<text class="tl" x="84.8" y="629.1" text-anchor="middle">0.0</text>
<text class="tl" x="211.0" y="629.1" text-anchor="middle">0.1</text>
<text class="tl" x="337.2" y="629.1" text-anchor="middle">0.2</text>
<text class="tl" x="463.4" y="629.1" text-anchor="middle">0.3</text>
<text class="tl" x="589.6" y="629.1" text-anchor="middle">0.4</text>
<text class="tl" x="79.2" y="607.1" text-anchor="end">0.0</text>
<text class="tl" x="79.2" y="510.4" text-anchor="end">0.1</text>
<text class="tl" x="79.2" y="413.7" text-anchor="end">0.2</text>
<text class="tl" x="79.2" y="317.1" text-anchor="end">0.3</text>
<text class="tl" x="79.2" y="220.4" text-anchor="end">0.4</text>
<text class="tl" x="79.2" y="123.7" text-anchor="end">0.5</text>
<text class="tl" x="79.2" y="27.0" text-anchor="end">0.6</text>
<text class="lb" transform="matrix(0.4375,0,0,0.4030,5.19,312.73)" style="font-family:'DejaVu Serif','Liberation Serif',serif;font-style:italic;font-size:100px" stroke-width="0.9">ε</text>
<text class="lb" transform="matrix(0.3450,0,0,0.3672,292.17,682.94)" style="font-family:'Liberation Sans',sans-serif;font-style:normal;font-size:100px">10</text>
<text class="lb" transform="matrix(0.2590,0,0,0.2420,332.90,665.40)" style="font-family:'Liberation Sans',sans-serif;font-style:normal;font-size:100px">2</text>
<text class="lb" transform="matrix(0.3435,0,0,0.3742,358.01,682.63)" style="font-family:'Liberation Sans',sans-serif;font-style:italic;font-size:100px">Q</text>
<text class="lb" transform="matrix(0.2938,0,0,0.2391,387.64,689.37)" style="font-family:'Liberation Sans',sans-serif;font-style:italic;font-size:100px">c</text>
<text class="lb" transform="matrix(0.3750,0,-0.0311,0.4453,401.23,688.97)" style="font-size:100px">/</text>
<text class="lb" transform="matrix(0.3290,0,0,0.2699,413.82,681.74)" style="font-family:'Liberation Sans',sans-serif;font-style:italic;font-size:100px">ω</text>
<text class="lb" transform="matrix(0.2714,0,0,0.2346,441.05,689.50)" style="font-family:'Liberation Sans',sans-serif;font-style:italic;font-size:100px">h</text>
<text class="lb" transform="matrix(0.2766,0,0,0.2420,455.51,665.40)" style="font-family:'Liberation Sans',sans-serif;font-style:normal;font-size:100px">2</text>
<text class="lb" transform="matrix(0.4096,0,0,0.4287,362.68,680.96)" style="font-family:'Liberation Sans',sans-serif;font-style:normal;font-size:100px">˙</text>
</svg></body></html>
